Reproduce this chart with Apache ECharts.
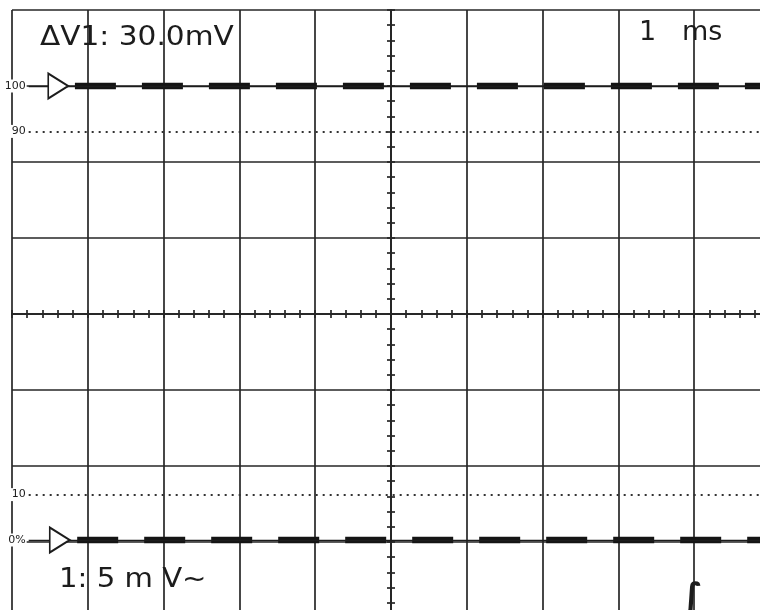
<!DOCTYPE html>
<html><head><meta charset="utf-8">
<script src="https://cdn.jsdelivr.net/npm/echarts/dist/echarts.min.js"></script>
<style>html,body{margin:0;padding:0;background:#fff}#c{width:760px;height:610px}</style>
</head><body><div id="c"></div>
<script>
// screen geometry in divisions (x: time divisions, y: vertical divisions)
const divX = [-5, 5];
const divY = [-4, 4];
// percent scale of the 0%..100% reference levels
const pctRange = [-17.18, 116.74];
// trace levels (%), labels and where each dashed trace begins (div)
const traceLevels = [100, 0];
const traceLabels = ['100', '0%'];
const traceStart = [-4.17, -4.14];
const traceEnd = 5;
const markerX = [-4.39, -4.37];
// cursor (dotted) levels
const cursorLevels = [90, 10];
const cursorLabels = ['90', '10'];
const refLineStart = -4.78;
// readouts
const readoutDelta = 'ΔV1: 30.0mV';
const readoutTime = '1   ms';
const readoutScale = '1: 5 m V~';
const triggerGlyph = '∫';

const ink = '#1c1c1c';
const gridCol = '#262626';
const font = 'DejaVu Sans';

function xAx(inside, split) {
  return {
    type: 'value', min: divX[0], max: divX[1], interval: 1, position: 'bottom',
    axisLine: { show: true, onZero: true, onZeroAxisIndex: 0, lineStyle: { color: gridCol, width: 1.7 } },
    axisTick: { show: true, inside: inside, length: 4, lineStyle: { color: gridCol, width: 1.7 } },
    minorTick: { show: true, splitNumber: 5, length: 4, lineStyle: { color: gridCol, width: 1.7 } },
    axisLabel: { show: false },
    splitLine: { show: split, lineStyle: { color: gridCol, width: 1.7 } }
  };
}
function yAx(inside, split) {
  return {
    type: 'value', min: divY[0], max: divY[1], interval: 1, position: 'left',
    axisLine: { show: true, onZero: true, onZeroAxisIndex: 0, lineStyle: { color: gridCol, width: 1.7 } },
    axisTick: { show: true, inside: inside, length: 4, lineStyle: { color: gridCol, width: 1.7 } },
    minorTick: { show: true, splitNumber: 5, length: 4, lineStyle: { color: gridCol, width: 1.7 } },
    axisLabel: { show: false },
    splitLine: { show: split, lineStyle: { color: gridCol, width: 1.7 } }
  };
}

const labelStyle = {
  show: true, position: 'start', distance: 2,
  fontFamily: font, fontSize: 11, color: ink,
  backgroundColor: '#fff', padding: [1, 1]
};

const series = traceLevels.map(function (lvl, i) {
  return {
    type: 'line', xAxisIndex: 0, yAxisIndex: 1, silent: true, z: 3,
    symbol: 'none',
    data: [[traceStart[i], lvl], [traceEnd, lvl]],
    lineStyle: { color: '#141414', width: 6.5, type: [41, 26], cap: 'butt' },
    markLine: {
      silent: true, symbol: ['none', 'none'], z: 4, animation: false,
      data: [
        [
          { coord: [refLineStart, lvl], lineStyle: { color: ink, width: 1.4, type: 'solid' },
            label: Object.assign({}, labelStyle, { formatter: traceLabels[i] }) },
          { coord: [traceEnd, lvl] }
        ],
        [
          { coord: [refLineStart, cursorLevels[i]], lineStyle: { color: '#333', width: 1.8, type: [2, 5] },
            label: Object.assign({}, labelStyle, { formatter: cursorLabels[i] }) },
          { coord: [traceEnd, cursorLevels[i]] }
        ]
      ]
    },
    markPoint: {
      silent: true, z: 10, animation: false,
      symbol: 'path://M0 0 L20 12 L0 24 Z',
      symbolSize: [20, 25],
      itemStyle: { color: '#fff', borderColor: ink, borderWidth: 1.8 },
      label: { show: false },
      data: [{ coord: [markerX[i], lvl] }]
    }
  };
});

const chart = echarts.init(document.getElementById('c'), null, { renderer: 'canvas' });
chart.setOption({
  animation: false,
  backgroundColor: '#fff',
  grid: { left: 12, top: 10, width: 758, height: 608, containLabel: false, outerBoundsMode: 'none' },
  xAxis: [xAx(false, true), xAx(true, false)],
  yAxis: [
    yAx(false, true),
    { type: 'value', min: pctRange[0], max: pctRange[1], show: false, position: 'right',
      axisLine: { onZero: false }, splitLine: { show: false } },
    yAx(true, false)
  ],
  series: series,
  graphic: [
    { type: 'text', z: 20, x: 40, y: 38, scaleX: 1.097, style: { x: 0, y: 0, text: readoutDelta, fill: ink,
      font: '27px "DejaVu Sans"', textAlign: 'left', textVerticalAlign: 'middle' } },
    { type: 'text', z: 20, style: { x: 639, y: 33, text: readoutTime, fill: ink,
      font: '27px "DejaVu Sans"', textAlign: 'left', textVerticalAlign: 'middle' } },
    { type: 'text', z: 20, x: 59, y: 580, scaleX: 1.08, style: { x: 0, y: 0, text: readoutScale, fill: ink,
      font: '27px "DejaVu Sans"', textAlign: 'left', textVerticalAlign: 'middle' } },
    { type: 'text', z: 20, style: { x: 692, y: 598, text: triggerGlyph, fill: ink,
      font: 'bold 34px "DejaVu Sans"', textAlign: 'center', textVerticalAlign: 'middle' } }
  ]
});
</script></body></html>
